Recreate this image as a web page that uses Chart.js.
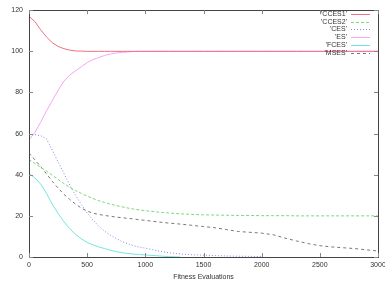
<!DOCTYPE html>
<html>
<head>
<meta charset="utf-8">
<script src="https://cdn.jsdelivr.net/npm/chart.js@4/dist/chart.umd.min.js"></script>
<style>
  html, body { margin: 0; padding: 0; background: #fff; }
  #wrap { width: 385px; height: 281px; }
</style>
</head>
<body>
<div id="wrap"><canvas id="myChart" width="385" height="281"></canvas></div>
<script>
// x positions (fitness evaluations) shared by all runs
const evals = [0,50,100,150,200,250,300,350,400,450,500,550,600,650,700,750,800,850,900,950,1000,
  1100,1200,1300,1400,1500,1600,1700,1800,1900,2000,2100,2200,2300,2400,2500,2600,2700,2800,2900,3000];

// values
const cces1 = [117,114.5,110.5,107,104.2,102.4,101.3,100.6,100.2,100.1,100,
  100,100,100,100,100,100,100,100,100,100,
  100,100,100,100,100,100,100,100,100,100,
  100,100,100,100,100,100,100,100,100,100];
const cces2 = [47.4,45.5,43.6,41.8,39.8,37.7,35.7,33.9,32.3,30.9,29.6,
  28.4,27.4,26.5,25.7,25,24.4,23.8,23.3,22.9,22.5,
  21.9,21.4,21,20.7,20.5,20.4,20.3,20.2,20.2,20.1,
  20.1,20.1,20,20,20,20,20,20,20,20];
const ces = [59.5,59.5,59,57.5,52,46.3,40.7,35,30,25.5,21.4,
  18,15,12.5,10.6,9,7.5,6.4,5.5,4.8,4.3,
  3.1,2.1,1.5,1.1,0.9,0.7,0.5,0.4,0.3,0.2,
  null,null,null,null,null,null,null,null,null,null];
const es = [57,60.5,65.5,71,76,81,85.5,88.5,90.5,92.5,94.5,
  96,97,98,98.7,99.2,99.5,99.7,99.9,100,100,
  100,100,100,100,100,100,100,100,100,100,
  100,100,100,100,100,100,100,100,100,100];
const fces = [40.5,38.5,35.5,31,25.6,21.2,17.2,13.8,11,8.8,7.1,
  5.9,4.9,4.1,3.3,2.6,2.1,1.7,1.4,1.2,1,
  0.6,0.2,0,null,null,null,null,null,null,null,
  null,null,null,null,null,null,null,null,null,null];
const mses = [50.5,47.3,44,40.5,36.8,33.5,30.5,28,25.7,23.8,22.3,
  21.3,20.7,20.2,19.8,19.4,19.1,18.8,18.5,18.1,17.8,
  17.1,16.5,16,15.4,14.8,14.2,13.3,12.4,12,11.6,
  10.8,9.2,7.8,6.5,5.5,4.9,4.5,4.1,3.5,2.9];

const seriesNames = ["'CCES1'", "'CCES2'", "'CES'", "'ES'", "'FCES'", "'MSES'"];
const seriesValues = [cces1, cces2, ces, es, fces, mses];
const seriesColors = ['rgb(236,112,128)', 'rgb(125,215,125)', 'rgb(135,135,232)', 'rgb(246,165,246)', 'rgb(115,228,228)', 'rgb(120,120,120)'];
const seriesDash = [[], [3,2], [1,2], [], [], [3,3]];

const xTitle = 'Fitness Evaluations';
const yTitle = 'Error';

const FONT = 'Liberation Sans, Arial, sans-serif';

// gnuplot-like box, inward ticks on all four sides, key and y title
const gnuplotBits = {
  id: 'gnuplotBits',
  afterDraw(chart) {
    const ctx = chart.ctx;
    const a = chart.chartArea;
    const xs = chart.scales.x, ys = chart.scales.y;
    ctx.save();
    ctx.strokeStyle = '#444';
    ctx.lineWidth = 1;
    ctx.strokeRect(Math.round(a.left) + 0.5, Math.round(a.top) + 0.5,
      Math.round(a.right - a.left), Math.round(a.bottom - a.top));

    ctx.strokeStyle = '#888';
    ctx.beginPath();
    xs.ticks.forEach(t => {
      const px = Math.round(xs.getPixelForValue(t.value)) + 0.5;
      ctx.moveTo(px, a.bottom); ctx.lineTo(px, a.bottom - 4);
      ctx.moveTo(px, a.top); ctx.lineTo(px, a.top + 4);
    });
    ys.ticks.forEach(t => {
      const py = Math.round(ys.getPixelForValue(t.value)) + 0.5;
      ctx.moveTo(a.left, py); ctx.lineTo(a.left + 4, py);
      ctx.moveTo(a.right, py); ctx.lineTo(a.right - 4, py);
    });
    ctx.stroke();

    // key
    ctx.font = '7px ' + FONT;
    ctx.textAlign = 'right';
    ctx.textBaseline = 'middle';
    chart.data.datasets.forEach((ds, i) => {
      const y = Math.round(14 + i * 7.7) + 0.5;
      ctx.fillStyle = '#333';
      ctx.fillText(ds.label, 347, y);
      ctx.strokeStyle = ds.borderColor;
      ctx.setLineDash(ds.borderDash);
      ctx.beginPath();
      ctx.moveTo(351, y); ctx.lineTo(370, y);
      ctx.stroke();
    });
    ctx.setLineDash([]);

    // y title, mostly off the left edge
    ctx.translate(-2, 128);
    ctx.rotate(-Math.PI / 2);
    ctx.textAlign = 'center';
    ctx.fillStyle = '#666';
    ctx.fillText(yTitle, 0, 0);
    ctx.restore();
  }
};

const datasets = seriesNames.map((name, i) => ({
  label: name,
  data: evals.map((e, j) => ({ x: e, y: seriesValues[i][j] })),
  borderColor: seriesColors[i],
  borderDash: seriesDash[i],
  borderWidth: 1,
  pointRadius: 0,
  fill: false,
  spanGaps: false,
  tension: 0
}));

const ctx = document.getElementById('myChart').getContext('2d');
const chart = new Chart(ctx, {
  type: 'line',
  data: { datasets: datasets },
  options: {
    responsive: false,
    animation: false,
    layout: { padding: { top: 6, right: 7, left: 0, bottom: 0 } },
    plugins: { legend: { display: false }, tooltip: { enabled: false } },
    scales: {
      x: {
        type: 'linear', min: 0, max: 3000,
        grid: { display: false, drawTicks: false },
        border: { display: false },
        ticks: { stepSize: 500, maxRotation: 0, autoSkip: false, padding: 4,
          color: '#333', font: { family: FONT, size: 7 },
          callback: v => String(v) },
        title: { display: true, text: xTitle, color: '#333', padding: 0,
          font: { family: FONT, size: 7 } },
        afterFit(scale) { scale.height = 24; scale.paddingRight = 0; scale.paddingLeft = 0; }
      },
      y: {
        min: 0, max: 120,
        grid: { display: false, drawTicks: false },
        border: { display: false },
        ticks: { stepSize: 20, padding: 6, color: '#333', font: { family: FONT, size: 7 },
          callback: v => String(v) },
        afterFit(scale) { scale.width = 29; }
      }
    }
  },
  plugins: [gnuplotBits]
});
</script>
</body>
</html>
